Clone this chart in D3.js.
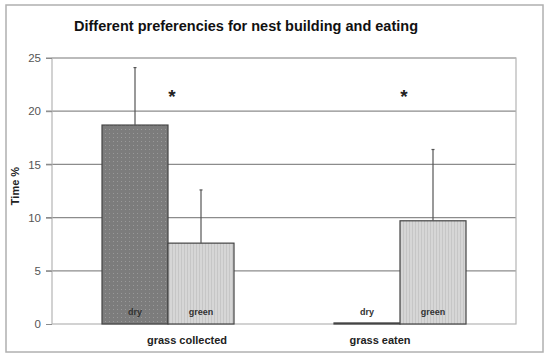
<!DOCTYPE html>
<html><head><meta charset="utf-8">
<script src="https://cdn.jsdelivr.net/npm/d3@7/dist/d3.min.js"></script>
<style>body{margin:0;background:#fff;font-family:"Liberation Sans",Arial,sans-serif;}</style>
</head><body><svg id="c" width="550" height="359"></svg>
<script>
const categories = ["grass collected", "grass eaten"];
const seriesNames = ["dry", "green"];
const dryValues = [18.7, 0.1];
const greenValues = [7.6, 9.7];
const dryErrors = [5.4, 0];
const greenErrors = [5.0, 6.7];
const significance = ["*", "*"];
const yTicks = [0, 5, 10, 15, 20, 25];
const title = "Different preferencies for nest building and eating";
const yLabel = "Time %";

const svg = d3.select("#c");
const defs = svg.append("defs");
const pd = defs.append("pattern").attr("id","pDry").attr("patternUnits","userSpaceOnUse").attr("width",4).attr("height",4);
pd.append("rect").attr("width",4).attr("height",4).attr("fill","#7c7c7c");
pd.append("rect").attr("x",1).attr("y",1).attr("width",1).attr("height",1).attr("fill","#999");
const pg = defs.append("pattern").attr("id","pGreen").attr("patternUnits","userSpaceOnUse").attr("width",3).attr("height",3);
pg.append("rect").attr("width",3).attr("height",3).attr("fill","#d6d6d6");
pg.append("rect").attr("x",1).attr("width",1).attr("height",3).attr("fill","#c6c6c6");

// outer frame
svg.append("rect").attr("x",6).attr("y",5).attr("width",537).attr("height",347)
  .attr("fill","#fff").attr("stroke","#b0b0b0").attr("stroke-width",1.5);

const m = {l:52, t:58, r:516, b:324};
const x = d3.scaleBand().domain(categories).range([m.l, m.r]);
const xs = d3.scaleBand().domain(seriesNames).range([50, x.bandwidth()-50]);
const y = d3.scaleLinear().domain([0,25]).range([m.b, m.t]);

// gridlines
svg.append("g").selectAll("line").data(yTicks.filter(d=>d>0)).join("line")
  .attr("x1",m.l-6).attr("x2",m.r).attr("y1",d=>y(d)).attr("y2",d=>y(d))
  .attr("stroke","#8c8c8c").attr("stroke-width",1.2);
// plot border
svg.append("rect").attr("x",m.l).attr("y",m.t).attr("width",m.r-m.l).attr("height",m.b-m.t)
  .attr("fill","none").attr("stroke","#b5b5b5").attr("stroke-width",1.2);

// y axis
const ya = svg.append("g").attr("transform",`translate(${m.l},0)`)
  .call(d3.axisLeft(y).tickValues(yTicks).tickSize(6).tickPadding(5));
ya.select(".domain").remove();
ya.selectAll(".tick line").attr("stroke","#8c8c8c");
ya.selectAll("text").attr("font-size",11.5).attr("fill","#555").attr("font-family","Liberation Sans, Arial, sans-serif");

// bars
const rows = [];
categories.forEach((c,i)=>{
  rows.push({c, s:"dry", v:dryValues[i], e:dryErrors[i]});
  rows.push({c, s:"green", v:greenValues[i], e:greenErrors[i]});
});
const g = svg.append("g");
g.selectAll("rect").data(rows).join("rect")
  .attr("x",d=>x(d.c)+xs(d.s)).attr("width",xs.bandwidth())
  .attr("y",d=>y(d.v)).attr("height",d=>y(0)-y(d.v))
  .attr("fill",d=>d.s==="dry"?"url(#pDry)":"url(#pGreen)")
  .attr("stroke","#444").attr("stroke-width",1.2);
// error bars
g.selectAll("line.err").data(rows.filter(d=>d.e>0)).join("line").attr("class","err")
  .attr("x1",d=>x(d.c)+xs(d.s)+xs.bandwidth()/2).attr("x2",d=>x(d.c)+xs(d.s)+xs.bandwidth()/2)
  .attr("y1",d=>y(d.v)).attr("y2",d=>y(d.v+d.e)).attr("stroke","#555").attr("stroke-width",1.2);
g.selectAll("line.cap").data(rows.filter(d=>d.e>0)).join("line").attr("class","cap")
  .attr("x1",d=>x(d.c)+xs(d.s)+xs.bandwidth()/2-1.5).attr("x2",d=>x(d.c)+xs(d.s)+xs.bandwidth()/2+1.5)
  .attr("y1",d=>y(d.v+d.e)).attr("y2",d=>y(d.v+d.e)).attr("stroke","#555").attr("stroke-width",1.2);
// bar labels
g.selectAll("text.bl").data(rows).join("text").attr("class","bl")
  .attr("x",d=>x(d.c)+xs(d.s)+xs.bandwidth()/2)
  .attr("y",y(0)-9)
  .attr("text-anchor","middle").attr("font-size",9).attr("font-weight","bold").attr("fill","#333")
  .text(d=>d.s);

// stars
svg.selectAll("text.star").data(categories).join("text").attr("class","star")
  .attr("x",d=>x(d)+x.bandwidth()/2+4).attr("y",y(20.8))
  .attr("text-anchor","middle").attr("font-size",19).attr("font-weight","bold").attr("fill","#222")
  .text((d,i)=>significance[i]);

// category labels
const catOffset = [19, -20];
svg.selectAll("text.cat").data(categories).join("text").attr("class","cat")
  .attr("x",(d,i)=>x(d)+x.bandwidth()/2+catOffset[i]).attr("y",m.b+20)
  .attr("text-anchor","middle").attr("font-size",11).attr("font-weight","bold").attr("fill","#222")
  .text(d=>d);

// title
svg.append("text").attr("x",246).attr("y",31).attr("text-anchor","middle")
  .attr("font-size",14.5).attr("font-weight","bold").attr("fill","#111").text(title);
// y label
svg.append("text").attr("transform","translate(19,186) rotate(-90)").attr("text-anchor","middle")
  .attr("font-size",11).attr("font-weight","bold").attr("fill","#222").text(yLabel);
</script></body></html>
